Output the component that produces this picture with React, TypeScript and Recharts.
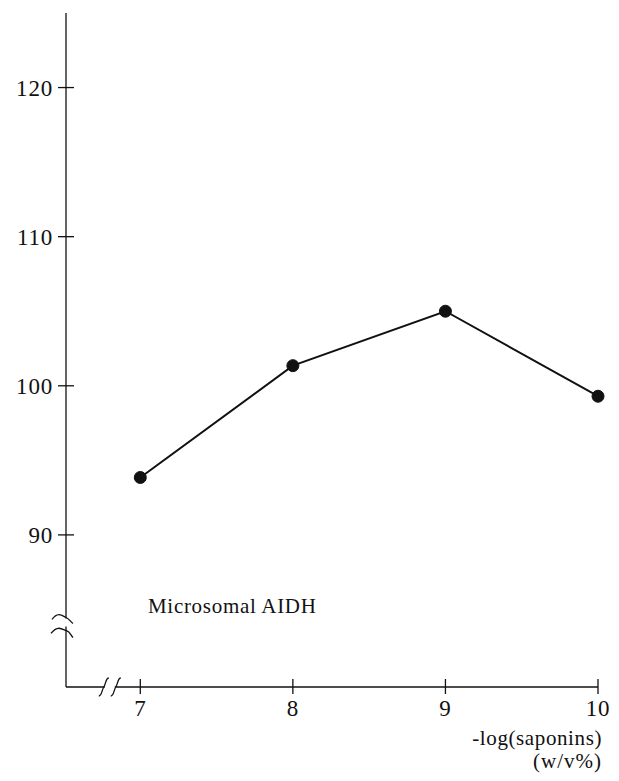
import React from 'react';
import { LineChart, Line, XAxis, YAxis, ReferenceDot, Customized } from 'recharts';

const FONT = '"Liberation Serif", "DejaVu Serif", serif';
const INK = '#111';

// data
const saponinLog = [7, 8, 9, 10];
const activity = [93.85, 101.35, 105.0, 99.3];
const xTicks = [7, 8, 9, 10];
const yTicks = [90, 100, 110, 120];
const xDomain = [6.513, 10];
const yDomain = [79.8, 125];
const seriesLabel = 'Microsomal AIDH';
const xLabelLines = ['-log(saponins)', '(w/v%)'];
const yBreakValue = 84.06;
const xBreakValue = 6.8;

const data = saponinLog.map((x, i) => ({ x, y: activity[i] }));

const YTick = (props: any) => {
  const { x, y, payload } = props;
  return (
    <g>
      <line x1={x - 8} x2={x + 8} y1={y} y2={y} stroke={INK} strokeWidth={1.3} />
      <text x={x - 13} y={y} dy="0.35em" textAnchor="end" fontSize={23} fontFamily={FONT} fill={INK} letterSpacing={0.8}>
        {payload.value}
      </text>
    </g>
  );
};

const XTick = (props: any) => {
  const { x, y, payload } = props;
  return (
    <g>
      <line x1={x} x2={x} y1={y - 8} y2={y + 7} stroke={INK} strokeWidth={1.3} />
      <text x={x} y={y + 29} textAnchor="middle" fontSize={23} fontFamily={FONT} fill={INK} letterSpacing={0.8}>
        {payload.value}
      </text>
    </g>
  );
};

const YBreak = (props: any) => {
  const { cx, cy } = props;
  if (cx == null || cy == null) return null;
  return (
    <g>
      <rect x={cx - 3} y={cy - 5} width={6} height={8} fill="#fff" />
      <path d={`M ${cx - 14} ${cy - 4} C ${cx - 8} ${cy - 12}, ${cx - 4} ${cy - 8}, ${cx} ${cy - 6} S ${cx + 4} ${cy - 2}, ${cx + 7} ${cy}`} fill="none" stroke={INK} strokeWidth={1.3} />
      <path d={`M ${cx - 15} ${cy + 10} C ${cx - 9} ${cy + 2}, ${cx - 5} ${cy + 5}, ${cx} ${cy + 7} S ${cx + 4} ${cy + 11}, ${cx + 7} ${cy + 14}`} fill="none" stroke={INK} strokeWidth={1.3} />
    </g>
  );
};

const XBreak = (props: any) => {
  const { cx, cy } = props;
  if (cx == null || cy == null) return null;
  const s = (dx: number) =>
    `M ${cx + dx - 5} ${cy + 9} C ${cx + dx - 2} ${cy + 9}, ${cx + dx - 2} ${cy + 3}, ${cx + dx} ${cy} S ${cx + dx + 2} ${cy - 9}, ${cx + dx + 5} ${cy - 9}`;
  return (
    <g>
      <rect x={cx - 5} y={cy - 3} width={10} height={6} fill="#fff" />
      <path d={s(-6)} fill="none" stroke={INK} strokeWidth={1.3} />
      <path d={s(6)} fill="none" stroke={INK} strokeWidth={1.3} />
    </g>
  );
};

const Dot = (props: any) => {
  const { cx, cy } = props;
  if (cx == null || cy == null) return null;
  return <circle cx={cx} cy={cy} r={6} fill={INK} stroke={INK} strokeWidth={1} />;
};

const Texts = () => (
  <g fontFamily={FONT} fill={INK}>
    <text x={140} y={605} fontSize={21} letterSpacing={0.7}>{seriesLabel}</text>
    <text x={594} y={737} fontSize={21} textAnchor="end" letterSpacing={0.6}>{xLabelLines[0]}</text>
    <text x={594} y={760} fontSize={21} textAnchor="end" letterSpacing={1}>{xLabelLines[1]}</text>
  </g>
);

export default function App() {
  return (
    <div style={{ width: 603, height: 765 }}>
      <LineChart
        width={603}
        height={765}
        data={data}
        margin={{ top: 5, right: 13, left: 0, bottom: 56 }}
        style={{ background: '#fff' }}
      >
        <XAxis
          dataKey="x"
          type="number"
          domain={xDomain}
          ticks={xTicks}
          height={30}
          tickSize={0}
          tickMargin={0}
          tickLine={false}
          axisLine={{ stroke: INK, strokeWidth: 1.3 }}
          tick={<XTick />}
        />
        <YAxis
          type="number"
          domain={yDomain}
          ticks={yTicks}
          width={58}
          tickSize={0}
          tickMargin={0}
          tickLine={false}
          axisLine={{ stroke: INK, strokeWidth: 1.3 }}
          tick={<YTick />}
        />
        <Line
          dataKey="y"
          stroke={INK}
          strokeWidth={2}
          isAnimationActive={false}
          dot={<Dot />}
          activeDot={false}
        />
        <ReferenceDot x={xDomain[0]} y={yBreakValue} r={0} shape={<YBreak />} ifOverflow="visible" />
        <ReferenceDot x={xBreakValue} y={yDomain[0]} r={0} shape={<XBreak />} ifOverflow="visible" />
        <Customized component={Texts} />
      </LineChart>
    </div>
  );
}
